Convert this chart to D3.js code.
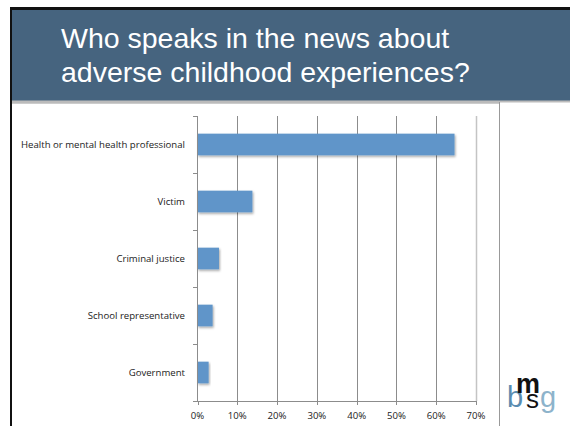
<!DOCTYPE html>
<html>
<head>
<meta charset="utf-8">
<script src="https://cdn.jsdelivr.net/npm/d3@7"></script>
<style>
  body { margin: 0; background: #fff; }
  svg { display: block; }
</style>
</head>
<body>
<svg id="chart" width="570" height="426"></svg>
<script>
// data
const categories = [
    "Health or mental health professional",
    "Victim",
    "Criminal justice",
    "School representative",
    "Government"
];
const shares = [64.6, 13.8, 5.4, 3.8, 2.8];
const xTicks = [0, 10, 20, 30, 40, 50, 60, 70];
const titleLines = ["Who speaks in the news about", "adverse childhood experiences?"];

const svg = d3.select("#chart");

// slide frame
svg.append("rect").attr("x", 10).attr("y", 7).attr("width", 560).attr("height", 419).attr("fill", "#111");
svg.append("rect").attr("x", 12).attr("y", 10).attr("width", 558).attr("height", 91).attr("fill", "#46647f");
svg.append("rect").attr("x", 12).attr("y", 101).attr("width", 558).attr("height", 325).attr("fill", "#fff");
svg.append("line").attr("x1", 12).attr("x2", 570).attr("y1", 101.5).attr("y2", 101.5)
    .attr("stroke", "#bbb").attr("stroke-width", 2);
svg.append("line").attr("x1", 499.5).attr("x2", 499.5).attr("y1", 102).attr("y2", 426)
    .attr("stroke", "#999");
svg.append("line").attr("x1", 12).attr("x2", 499.5).attr("y1", 103).attr("y2", 103)
    .attr("stroke", "#999");

svg.append("g").selectAll("text")
    .data(titleLines)
    .enter()
    .append("text")
    .attr("x", 61)
    .attr("y", (d, i) => 48 + i * 34)
    .attr("fill", "#fff")
    .style("font-family", "Liberation Sans, Arial, sans-serif")
    .style("font-size", "28.5px")
    .text(d => d);

// chart
const x = d3.scaleLinear().domain([0, 70]).range([197.5, 476]);
const y = d3.scaleBand().domain(categories).range([116, 401]).paddingInner(0.62).paddingOuter(0.31);

const defs = svg.append("defs");
const f = defs.append("filter").attr("id", "shadow").attr("x", "-10%").attr("y", "-20%")
    .attr("width", "130%").attr("height", "160%");
f.append("feDropShadow").attr("dx", 1).attr("dy", 1.5).attr("stdDeviation", 1)
    .attr("flood-color", "#000").attr("flood-opacity", 0.35);

const grid = svg.append("g");
grid.selectAll("line")
    .data(xTicks.slice(1))
    .enter()
    .append("line")
    .attr("x1", d => Math.round(x(d)) + 0.5)
    .attr("x2", d => Math.round(x(d)) + 0.5)
    .attr("y1", 116)
    .attr("y2", 401)
    .attr("stroke", d => d === 70 ? "#c4c4c4" : "#8c8c8c")
    .attr("stroke-width", d => d === 70 ? 1.5 : 1);

svg.append("g").selectAll("rect")
    .data(shares)
    .enter()
    .append("rect")
    .attr("x", x(0))
    .attr("y", (d, i) => y(categories[i]))
    .attr("width", d => x(d) - x(0))
    .attr("height", y.bandwidth())
    .attr("fill", "#6095c9")
    .attr("filter", "url(#shadow)");

// y axis with ticks at category boundaries
const yAxis = svg.append("g");
yAxis.append("line").attr("x1", 197.5).attr("x2", 197.5).attr("y1", 116).attr("y2", 401)
    .attr("stroke", "#8c8c8c");
const bounds = d3.range(categories.length + 1).map(i => 116 + i * y.step());
yAxis.selectAll(".tk")
    .data(bounds)
    .enter()
    .append("line")
    .attr("x1", 193)
    .attr("x2", 197.5)
    .attr("y1", d => Math.round(d) + 0.5)
    .attr("y2", d => Math.round(d) + 0.5)
    .attr("stroke", "#8c8c8c");

yAxis.selectAll("text")
    .data(categories)
    .enter()
    .append("text")
    .attr("x", 185)
    .attr("y", d => y(d) + y.bandwidth() / 2)
    .attr("dy", "0.35em")
    .attr("text-anchor", "end")
    .attr("fill", "#222")
    .style("font-family", "Open Sans, sans-serif")
    .style("font-size", "9.6px")
    .text(d => d);

// x axis
const xAxis = svg.append("g");
xAxis.append("line").attr("x1", 193).attr("x2", 476.5).attr("y1", 401.5).attr("y2", 401.5)
    .attr("stroke", "#8c8c8c");
xAxis.selectAll("line.xt")
    .data(xTicks)
    .enter()
    .append("line")
    .attr("class", "xt")
    .attr("x1", d => Math.round(x(d)) + 0.5)
    .attr("x2", d => Math.round(x(d)) + 0.5)
    .attr("y1", 401)
    .attr("y2", 405)
    .attr("stroke", "#8c8c8c");
xAxis.selectAll("text")
    .data(xTicks)
    .enter()
    .append("text")
    .attr("x", d => x(d))
    .attr("y", 416)
    .attr("dy", "0.35em")
    .attr("text-anchor", "middle")
    .attr("fill", "#222")
    .style("font-family", "Open Sans, sans-serif")
    .style("font-size", "9.6px")
    .text(d => d + "%");

// bmsg logo, one text so the letters can overlap as in the original
const logo = svg.append("text")
    .attr("x", 507).attr("y", 407)
    .style("font-family", "Liberation Sans, Arial, sans-serif");
logo.append("tspan").attr("fill", "#5a8cb0").style("font-size", "29px").text("b");
logo.append("tspan").attr("x", 516).attr("y", 393).attr("fill", "#111").style("font-size", "27px")
    .style("font-weight", "bold").text("m");
logo.append("tspan").attr("x", 526).attr("y", 408).attr("fill", "#111").style("font-size", "26px").text("s");
logo.append("tspan").attr("x", 540).attr("y", 407).attr("fill", "#8db3cb").style("font-size", "29px").text("g");
</script>
</body>
</html>
